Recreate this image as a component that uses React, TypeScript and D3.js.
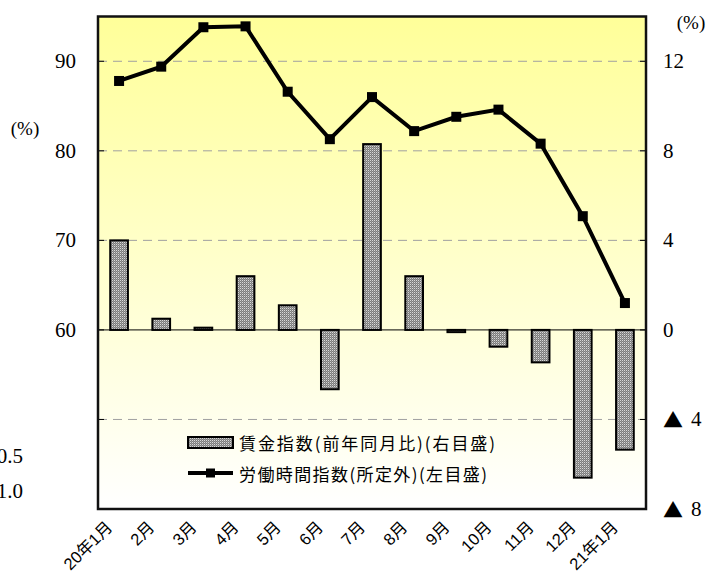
import React from "react";
import * as d3 from "d3";

const categories = ["20年1月", "2月", "3月", "4月", "5月", "6月", "7月", "8月", "9月", "10月", "11月", "12月", "21年1月"];
const wageIndex = [4.0, 0.5, 0.1, 2.4, 1.1, -2.65, 8.3, 2.4, -0.1, -0.75, -1.45, -6.6, -5.35];
const hoursIndex = [87.8, 89.4, 93.8, 93.9, 86.6, 81.3, 86.0, 82.2, 83.8, 84.6, 80.8, 72.7, 63.0];
const leftTicks = [50, 60, 70, 80, 90];
const leftLabels = [60, 70, 80, 90];
const rightTicks = [-8, -4, 0, 4, 8, 12];
const gridValuesRight = [-4, 4, 8, 12];
const strayLabels = [
  { text: "0.5", y: 456 },
  { text: "1.0", y: 491 },
];
const legendItems = ["賃金指数(前年同月比)(右目盛)", "労働時間指数(所定外)(左目盛)"];

const W = 722;
const H = 579;
const L = 98, R = 646, T = 16.5, B = 509;

export default function App() {
  const x = d3.scaleBand<string>().domain(categories).range([L, R]).padding(0);
  const yL = d3.scaleLinear().domain([40, 95]).range([B, T]);
  const yR = d3.scaleLinear().domain([-8, 14]).range([B, T]);
  const bw = x.bandwidth() * 0.42;
  const cx = (c: string) => (x(c) as number) + x.bandwidth() / 2;

  const line = d3
    .line<number>()
    .x((_, i) => cx(categories[i]))
    .y((d) => yL(d));

  const serif = "'Liberation Serif', 'Times New Roman', serif";
  const sans = "Liberation Sans, Noto Sans CJK JP, sans-serif";
  const cjk = "Noto Sans CJK JP";

  return (
    <svg
      width={W}
      height={H}
      viewBox={`0 0 ${W} ${H}`}
      style={{ position: "absolute", left: 0, top: 0, background: "#fff" }}
    >
      <defs>
        <linearGradient id="bg" x1="0" y1="0" x2="0" y2="1">
          <stop offset="0%" stopColor="#FFFF99" />
          <stop offset="100%" stopColor="#FFFFFF" />
        </linearGradient>
        <pattern id="stip" width="2" height="2" patternUnits="userSpaceOnUse">
          <rect width="2" height="2" fill="#7c7c7c" />
          <rect x="0" y="0" width="1" height="1" fill="#d8d8d8" />
          <rect x="1" y="1" width="1" height="1" fill="#9a9a9a" />
        </pattern>
      </defs>

      <rect x={L} y={T} width={R - L} height={B - T} fill="url(#bg)" />

      {gridValuesRight.map((v) => (
        <line key={v} x1={L} x2={R} y1={yR(v)} y2={yR(v)} stroke="#a0a0a0" strokeWidth={1} strokeDasharray="9,6" />
      ))}

      {categories.map((c, i) => {
        const v = wageIndex[i];
        const y0 = yR(0);
        const y1 = yR(v);
        return (
          <rect
            key={c}
            x={cx(c) - bw / 2}
            y={Math.min(y0, y1)}
            width={bw}
            height={Math.abs(y1 - y0)}
            fill="url(#stip)"
            stroke="#000"
            strokeWidth={2}
          />
        );
      })}

      <line x1={L} x2={R} y1={yR(0)} y2={yR(0)} stroke="#000" strokeWidth={1} />

      <path d={line(hoursIndex) || ""} fill="none" stroke="#000" strokeWidth={4} strokeLinejoin="miter" />
      {hoursIndex.map((v, i) => (
        <rect key={i} x={cx(categories[i]) - 5} y={yL(v) - 5} width={10} height={10} fill="#000" />
      ))}

      {leftTicks.map((v) => (
        <line key={v} x1={L} x2={L + 6} y1={yL(v)} y2={yL(v)} stroke="#000" strokeWidth={1} />
      ))}
      {rightTicks.map((v) => (
        <line key={v} x1={R - 6} x2={R} y1={yR(v)} y2={yR(v)} stroke="#000" strokeWidth={1} />
      ))}

      <rect x={L} y={T} width={R - L} height={B - T} fill="none" stroke="#111" strokeWidth={2.5} />

      {leftLabels.map((v) => (
        <text key={v} x={76} y={yL(v)} dominantBaseline="central" textAnchor="end" fontFamily={serif} fontSize={21} fill="#000">
          {v}
        </text>
      ))}
      {strayLabels.map((s) => (
        <text key={s.text} x={23} y={s.y} dominantBaseline="central" textAnchor="end" fontFamily={serif} fontSize={21} fill="#000">
          {s.text}
        </text>
      ))}
      <text x={25} y={128} dominantBaseline="central" textAnchor="middle" fontFamily={serif} fontSize={19}>(%)</text>
      <text x={691} y={22} dominantBaseline="central" textAnchor="middle" fontFamily={serif} fontSize={19}>(%)</text>

      {rightTicks.map((v) => {
        const y = yR(v);
        if (v >= 0) {
          return (
            <text key={v} x={663} y={y} dominantBaseline="central" textAnchor="start" fontFamily={serif} fontSize={21}>
              {v}
            </text>
          );
        }
        return (
          <text key={v} x={663} y={y} dominantBaseline="central" textAnchor="start" fontFamily={serif} fontSize={21}>
            <tspan fontFamily={cjk} fontSize={20}>▲</tspan>
            <tspan dx={8}>{Math.abs(v)}</tspan>
          </text>
        );
      })}

      {categories.map((c) => (
        <text
          key={c}
          transform={`translate(${cx(c) - 10},${524}) rotate(-45)`}
          textAnchor="end"
          dominantBaseline="central"
          fontFamily={sans}
          fontSize={16.5}
        >
          {c}
        </text>
      ))}

      <rect x={188} y={437} width={45} height={11} fill="url(#stip)" stroke="#000" strokeWidth={2} />
      <text x={239} y={442} dominantBaseline="central" fontFamily={cjk} fontSize={17} textLength={256} lengthAdjust="spacing">
        {legendItems[0]}
      </text>
      <line x1={188} x2={233} y1={473} y2={473} stroke="#000" strokeWidth={4} />
      <rect x={206} y={468.5} width={9} height={9} fill="#000" />
      <text x={239} y={473} dominantBaseline="central" fontFamily={cjk} fontSize={17} textLength={248} lengthAdjust="spacing">
        {legendItems[1]}
      </text>
    </svg>
  );
}
